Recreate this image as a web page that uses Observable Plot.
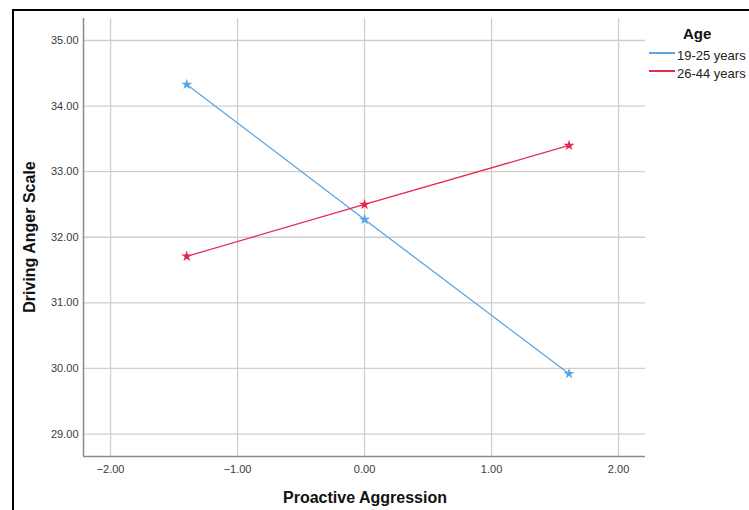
<!DOCTYPE html>
<html>
<head>
<meta charset="utf-8">
<script src="https://cdn.jsdelivr.net/npm/d3@7"></script>
<script src="https://cdn.jsdelivr.net/npm/@observablehq/plot@0.6"></script>
<style>
  html, body { margin: 0; padding: 0; background: #fff; }
  body { width: 749px; height: 510px; position: relative; overflow: hidden; font-family: "Liberation Sans", Arial, sans-serif; }
  #chart { position: absolute; left: 0; top: 0; }
  .border { position: absolute; left: 12px; top: 9px; width: 800px; height: 600px; border-left: 2px solid #000; border-top: 2px solid #000; box-sizing: border-box; }
  .title { position: absolute; font-weight: bold; font-size: 16px; line-height: 16px; color: #111; white-space: nowrap; }
  .legtext { position: absolute; font-size: 13px; line-height: 13px; color: #222; white-space: nowrap; }
  .legline { position: absolute; width: 26px; height: 0; border-top-width: 2px; border-top-style: solid; }
</style>
</head>
<body>
<div class="border"></div>
<div id="chart"></div>
<script>
// Data
const groups = ["19-25 years", "26-44 years"];
const colors = ["#5AA5E2", "#E8284F"];
const xValues = [-1.40, 0.0, 1.61];
const young = [34.33, 32.27, 29.92];
const older = [31.71, 32.50, 33.40];
const xTicks = [-2, -1, 0, 1, 2];
const yTicks = [29, 30, 31, 32, 33, 34, 35];
const xDomain = [-2.213, 2.212];
const yDomain = [28.658, 35.335];

const rows = [];
xValues.forEach((x, i) => rows.push({x, y: young[i], g: groups[0]}));
xValues.forEach((x, i) => rows.push({x, y: older[i], g: groups[1]}));

const plot = Plot.plot({
  width: 749,
  height: 510,
  marginLeft: 83,
  marginRight: 104,
  marginTop: 18,
  marginBottom: 54,
  style: {fontFamily: "Liberation Sans, Arial, sans-serif", fontSize: "11px", color: "#3a3a3a", background: "transparent"},
  x: {domain: xDomain},
  y: {domain: yDomain},
  color: {domain: groups, range: colors},
  marks: [
    Plot.ruleX(xTicks, {stroke: "#cfcfcf", strokeWidth: 1.3, strokeOpacity: 1}),
    Plot.ruleY(yTicks, {stroke: "#cfcfcf", strokeWidth: 1.3, strokeOpacity: 1}),
    Plot.ruleX([xDomain[0]], {stroke: "#8a8a8a", strokeWidth: 1.5}),
    Plot.ruleY([yDomain[0]], {stroke: "#8a8a8a", strokeWidth: 1.5}),
    Plot.axisX({ticks: xTicks, tickFormat: d3.format(".2f"), tickSize: 0, tickPadding: 9, label: null}),
    Plot.axisY({ticks: yTicks, tickFormat: d3.format(".2f"), tickSize: 0, tickPadding: 5, label: null}),
    Plot.line(rows, {x: "x", y: "y", z: "g", stroke: "g", strokeWidth: 1.3}),
    Plot.dot(rows, {x: "x", y: "y", stroke: "g", fill: "g", symbol: "star", r: 2})
  ]
});
document.getElementById("chart").appendChild(plot);

// Titles
function addDiv(cls, text, style) {
  const d = document.createElement("div");
  d.className = cls;
  if (text !== null) d.textContent = text;
  Object.assign(d.style, style);
  document.body.appendChild(d);
  return d;
}
addDiv("title", "Proactive Aggression", {left: "365px", top: "490px", transform: "translateX(-50%)"});
addDiv("title", "Driving Anger Scale", {left: "30px", top: "237px", transform: "translate(-50%, -50%) rotate(-90deg)"});

// Legend
addDiv("title", "Age", {left: "683px", top: "26px", fontSize: "15px", lineHeight: "15px"});
groups.forEach((g, i) => {
  const cy = 53 + i * 18;
  addDiv("legline", null, {left: "649px", top: (cy - 1) + "px", borderTopColor: colors[i]});
  addDiv("legtext", g, {left: "677px", top: (cy - 4.5) + "px"});
});
</script>
</body>
</html>
